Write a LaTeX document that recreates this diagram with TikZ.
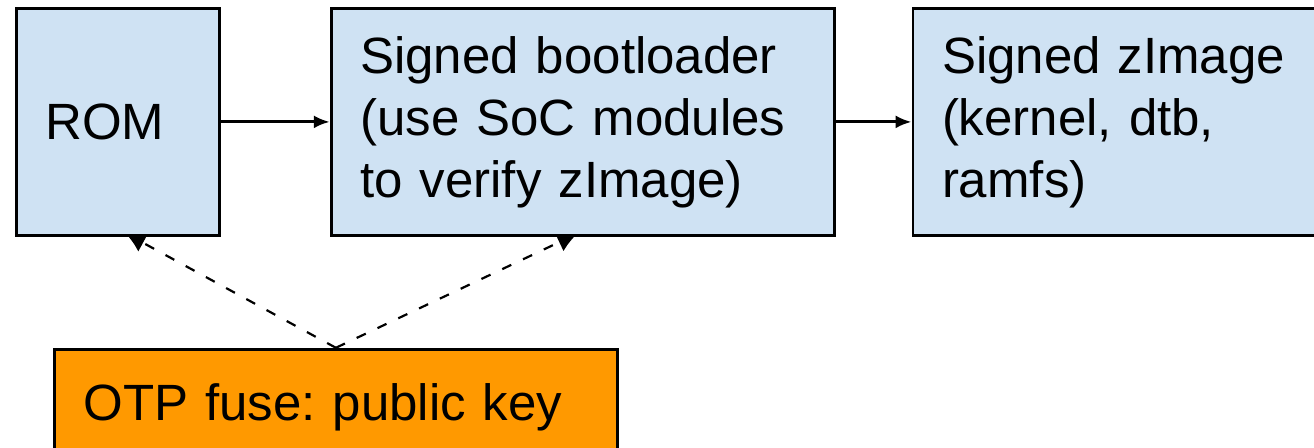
\documentclass[tikz,border=0pt]{standalone}
\usepackage{fontspec}
\setmainfont{Liberation Sans}
\usetikzlibrary{arrows.meta,positioning,backgrounds}
\definecolor{bootblue}{HTML}{CFE2F3}
\definecolor{fuseorange}{HTML}{FF9900}
\frenchspacing
\tikzset{
  stage/.style={draw=black, line width=1.4pt, fill=bootblue, align=left,
    inner xsep=14.5pt, inner ysep=0pt, minimum height=113.5pt,
    font=\fontsize{25.5pt}{31pt}\selectfont},
  keybox/.style={stage, fill=fuseorange, minimum height=58pt},
  flow/.style={-{Latex[length=8pt,width=6.5pt]}, line width=1.5pt},
  keyflow/.style={-{Latex[length=10pt,width=10pt]}, line width=1.1pt,
    dash pattern=on 5pt off 6.5pt, shorten >=-3.75pt}
}

\begin{document}
\begin{tikzpicture}
  \useasboundingbox (0,0) rectangle (657pt,-224pt);
  \clip (0,0) rectangle (657pt,-224pt);
  % boot chain
  \node[stage, text width=72.5pt, anchor=north west] (rom) at (7.5pt,-3.5pt) {ROM};
  \node[stage, text width=222.5pt, right=54.5pt of rom] (boot)
    {Signed bootloader\\(use SoC modules\\to verify zImage)};
  \node[stage, text width=201pt, right=38pt of boot] (zimg)
    {Signed zImage\\(kernel, dtb,\\ramfs)};
  \node[keybox, text width=252.5pt, below=55.5pt of rom.south west,
    anchor=north west, xshift=19pt] (otp) {OTP fuse: public key};
  \draw[flow] (rom) -- (boot);
  \draw[flow] (boot) -- (zimg);
  % key check, tips partly under the boxes
  \begin{scope}[on background layer]
    \draw[keyflow] (otp.north) -- (rom.-83);
    \draw[keyflow] (otp.north) -- (boot.-96);
  \end{scope}
\end{tikzpicture}
\end{document}
